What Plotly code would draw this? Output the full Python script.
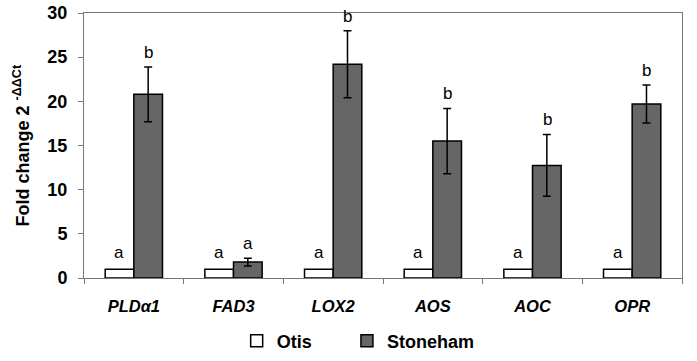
import plotly.graph_objects as go

genes = ["PLDα1", "FAD3", "LOX2", "AOS", "AOC", "OPR"]
otis = [1, 1, 1, 1, 1, 1]
stoneham = [20.8, 1.8, 24.2, 15.5, 12.75, 19.7]
stoneham_err = [3.1, 0.45, 3.8, 3.7, 3.5, 2.15]
otis_letters = ["a", "a", "a", "a", "a", "a"]
stoneham_letters = ["b", "a", "b", "b", "b", "b"]
y_ticks = [0, 5, 10, 15, 20, 25, 30]

FONT = "Liberation Sans, Arial, sans-serif"

fig = go.Figure()
fig.add_trace(go.Bar(
    name="Otis", x=genes, y=otis, legend="legend",
    marker=dict(color="white", line=dict(color="black", width=1.5)),
))
fig.add_trace(go.Bar(
    name="Stoneham", x=genes, y=stoneham, legend="legend2",
    marker=dict(color="#666666", line=dict(color="black", width=1.5)),
    error_y=dict(type="data", array=stoneham_err, color="black", thickness=1.5, width=4),
))

# significance letters
for i, g in enumerate(genes):
    fig.add_annotation(x=g, y=otis[i], text=otis_letters[i],
                       xshift=-14.5, yshift=5, yanchor="bottom", showarrow=False,
                       font=dict(family=FONT, size=17, color="black"))
    fig.add_annotation(x=g, y=stoneham[i] + stoneham_err[i], text=stoneham_letters[i],
                       xshift=14.5, yshift=3, yanchor="bottom", showarrow=False,
                       font=dict(family=FONT, size=17, color="black"))

# y-axis title
fig.add_annotation(xref="paper", yref="paper", x=0, y=0.5, xshift=-62,
                   text="<b>Fold change 2 <sup>-ΔΔCt</sup></b>", textangle=-90,
                   showarrow=False, xanchor="center", yanchor="middle",
                   font=dict(family=FONT, size=18, color="black"))

legend_style = dict(orientation="h", y=-0.238, yanchor="middle", xanchor="left",
                    font=dict(family=FONT, size=18, weight="bold"),
                    itemwidth=30, bgcolor="rgba(0,0,0,0)")

fig.update_layout(
    width=697, height=361,
    margin=dict(l=84, r=15, t=13, b=83, autoexpand=False),
    paper_bgcolor="white", plot_bgcolor="white",
    barmode="group", bargap=0.425, bargroupgap=0,
    font=dict(family=FONT, color="black"),
    showlegend=True,
    legend=dict(x=0.2553, **legend_style),
    legend2=dict(x=0.4397, **legend_style),
)
fig.update_xaxes(
    automargin=False,
    showline=True, linecolor="#777777", linewidth=1, mirror=True,
    ticks="outside", tickson="boundaries", ticklen=5, tickcolor="#777777",
    ticklabelstandoff=13, ticklabeloverflow="allow",
    tickfont=dict(family=FONT, size=16.5, weight="bold", style="italic", color="black"),
    showgrid=False,
)
fig.update_yaxes(
    automargin=False,
    range=[0, 30], tickvals=y_ticks,
    showline=True, linecolor="#777777", linewidth=1, mirror=True,
    ticks="outside", ticklen=5, tickcolor="#777777",
    ticklabelstandoff=7, ticklabeloverflow="allow",
    tickfont=dict(family=FONT, size=18, weight="bold", color="black"),
    showgrid=False, zeroline=False,
)

# remove the default 8px page margin so the figure fills the window exactly
fig.write_html("out.html",
               config={"displayModeBar": False},
               post_script="document.body.style.margin='0';document.body.style.padding='0';")
